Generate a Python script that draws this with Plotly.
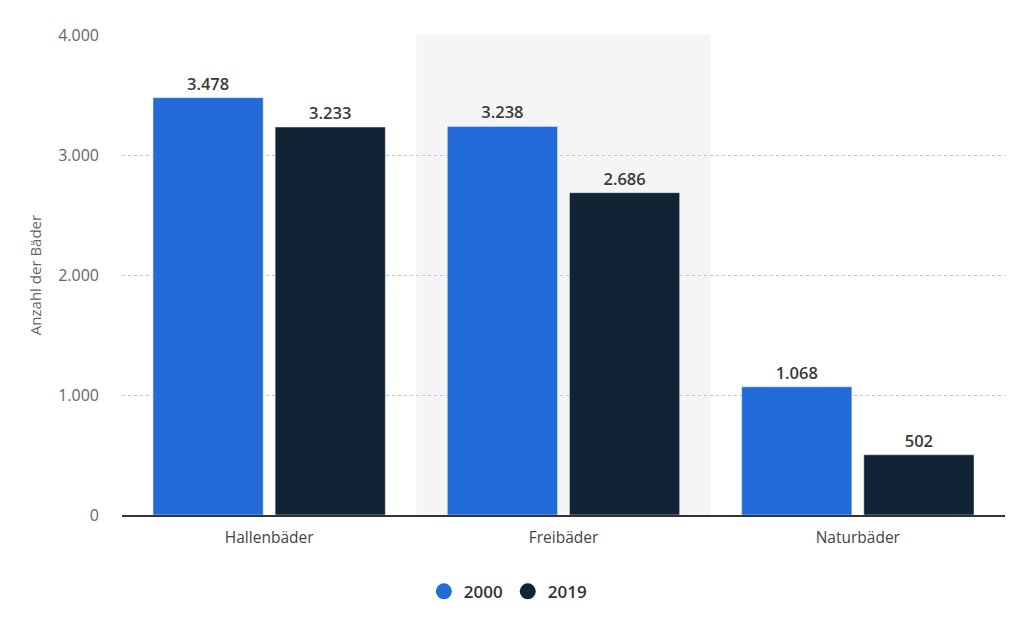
import plotly.graph_objects as go

# ---------------------------------------------------
# DATA
# ---------------------------------------------------

categories = ['Hallenbäder', 'Freibäder', 'Naturbäder']
series_names = ['2000', '2019']
values_2000 = [3478, 3238, 1068]
values_2019 = [3233, 2686, 502]
y_ticks = [0, 1000, 2000, 3000, 4000]

FONT = 'Open Sans'
COLORS = ['#236bd9', '#132336']

fig = go.Figure()

# ---------------------------------------------------
# BARS
# ---------------------------------------------------

for name, values, color in zip(series_names, [values_2000, values_2019], COLORS):
    fig.add_trace(
        go.Bar(
            x=categories,
            y=values,
            name=name,
            showlegend=False,
            marker=dict(color=color),
            texttemplate='%{y:,}',
            textposition='outside',
            textfont=dict(family=FONT, size=16.5, color='#3a3a3a', weight=600),
            cliponaxis=False
        )
    )

# legend entries with round markers
for name, color in zip(series_names, COLORS):
    fig.add_trace(
        go.Scatter(
            x=[None],
            y=[None],
            name=name,
            mode='markers',
            marker=dict(symbol='circle', size=17, color=color)
        )
    )

# grey band behind the middle category
fig.add_shape(
    type='rect',
    xref='x', yref='paper',
    x0=0.5, x1=1.5, y0=0, y1=1,
    fillcolor='#f5f5f5',
    line=dict(width=0),
    layer='below'
)

# ---------------------------------------------------
# LAYOUT
# ---------------------------------------------------

fig.update_layout(
    width=1024,
    height=625,
    margin=dict(l=114, r=27, t=27, b=118),
    paper_bgcolor='white',
    plot_bgcolor='white',
    separators=',.',
    barmode='group',
    bargap=0.17,
    bargroupgap=0.098,
    font=dict(family=FONT, size=14, color='#555555'),
    showlegend=True,
    legend=dict(
        orientation='h',
        x=0.437,
        xanchor='center',
        y=-0.16,
        yanchor='middle',
        font=dict(family=FONT, size=17, color='#333333', weight=600),
        traceorder='normal'
    )
)

fig.update_xaxes(
    showgrid=False,
    showline=True,
    linecolor='#333333',
    linewidth=1.5,
    ticks='',
    tickfont=dict(family=FONT, size=15.5, color='#444444'),
    ticklabelstandoff=8
)

fig.update_yaxes(
    range=[0, 4000],
    tickvals=y_ticks,
    tickformat=',',
    showgrid=True,
    gridcolor='#c4c4c4',
    griddash='dot',
    gridwidth=1,
    zeroline=False,
    showline=False,
    tickfont=dict(family=FONT, size=16, color='#666666'),
    ticklabelstandoff=22,
    title=dict(
        text='Anzahl der Bäder',
        font=dict(family=FONT, size=15, color='#666666'),
        standoff=12
    )
)

fig.write_html('out.html')
